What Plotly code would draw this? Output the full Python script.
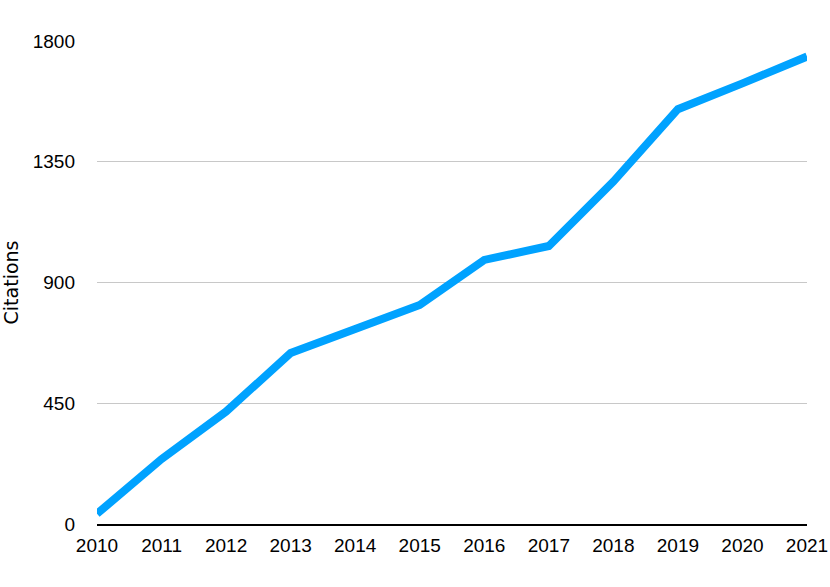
import plotly.graph_objects as go

years = [2010, 2011, 2012, 2013, 2014, 2015, 2016, 2017, 2018, 2019, 2020, 2021]
citations = [38, 242, 419, 637, 727, 816, 984, 1036, 1276, 1546, 1642, 1742]
y_ticks = [0, 450, 900, 1350, 1800]

fig = go.Figure(go.Scatter(
    x=years, y=citations, mode="lines",
    line=dict(color="rgb(0,162,255)", width=8),
    cliponaxis=False,
))

font = "Liberation Sans, Arial, Helvetica, sans-serif"
fig.update_layout(
    width=830, height=587,
    margin=dict(l=97, r=23, t=41, b=63),
    plot_bgcolor="white", paper_bgcolor="white",
    showlegend=False,
    font=dict(family=font, size=19, color="black"),
)
fig.update_xaxes(
    range=[2010, 2021], tickvals=years, ticktext=[str(y) for y in years],
    showgrid=False, showline=True, linecolor="black", linewidth=2,
    ticks="", zeroline=False, ticklabelstandoff=3, automargin=False,
)
fig.update_yaxes(
    range=[0, 1800], tickvals=y_ticks,
    showgrid=True, gridcolor="#c8c8c8", gridwidth=1,
    zeroline=False, showline=False, ticks="",
    ticklabelstandoff=21, automargin=False,
    title=dict(text="Citations", standoff=11,
               font=dict(size=19, family="DejaVu Sans, sans-serif")),
)

fig.write_html(
    "out.html",
    config={"displayModeBar": False},
    post_script="document.body.style.margin='0';document.body.style.overflow='hidden';",
)
